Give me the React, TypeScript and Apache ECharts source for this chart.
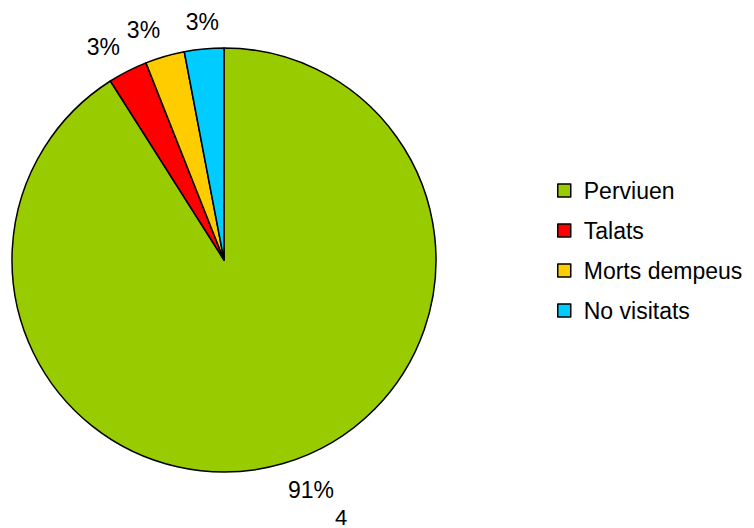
import React, { useEffect, useRef } from "react";
import * as echarts from "echarts";

const categories = ["Perviuen", "Talats", "Morts dempeus", "No visitats"];
const values = [91, 3, 3, 3];
const colors = ["#99cc00", "#ff0000", "#ffcc00", "#00ccff"];
const footnote = "4";

export default function App() {
  const ref = useRef<HTMLDivElement>(null);
  useEffect(() => {
    if (!ref.current) return;
    const chart = echarts.init(ref.current, null, { renderer: "svg" });
    const font = "'Liberation Sans', Arial, sans-serif";
    chart.setOption({
      animation: false,
      backgroundColor: "#ffffff",
      textStyle: { fontFamily: font },
      legend: {
        orient: "vertical",
        left: 552,
        top: 174,
        itemWidth: 13,
        itemHeight: 13,
        itemGap: 17,
        icon: "rect",
        textStyle: {
          fontSize: 23,
          lineHeight: 20,
          color: "#000",
          fontFamily: font,
          padding: [0, 0, 0, 8],
        },
        itemStyle: { borderColor: "#000", borderWidth: 1.5 },
        data: categories,
      },
      graphic: [
        {
          type: "text",
          left: 335,
          top: 506,
          style: { text: footnote, fontSize: 22, fill: "#000", fontFamily: font },
        },
      ],
      series: [
        {
          type: "pie",
          center: [224, 260],
          radius: [0, 212],
          startAngle: 90,
          clockwise: true,
          avoidLabelOverlap: false,
          data: categories.map((c, i) => ({
            name: c,
            value: values[i],
            itemStyle: { color: colors[i] },
          })),
          itemStyle: { borderColor: "#000", borderWidth: 1.5 },
          label: {
            show: true,
            position: "outside",
            formatter: (p: any) => Math.round(p.percent) + "%",
            fontSize: 23,
            color: "#000",
            fontFamily: font,
            distanceToLabelLine: 0,
          },
          labelLine: { show: false, length: 17, length2: 0 },
          labelLayout: (p: any) => {
            const pts = p.labelLinePoints;
            if (!pts) return {};
            const s = pts[0];
            const e = pts[pts.length - 1];
            const dx = e[0] - s[0];
            const dy = e[1] - s[1];
            const len = Math.sqrt(dx * dx + dy * dy) || 1;
            const ux = dx / len;
            const uy = dy / len;
            const align = Math.abs(ux) < 0.15 ? "center" : ux < 0 ? "right" : "left";
            return {
              x: e[0],
              y: e[1] + uy * 10,
              align,
              verticalAlign: "middle",
            };
          },
          emphasis: { disabled: true },
        },
      ],
    });
    return () => chart.dispose();
  }, []);
  return (
    <div
      ref={ref}
      style={{ position: "fixed", left: 0, top: 0, width: 754, height: 528 }}
    />
  );
}
